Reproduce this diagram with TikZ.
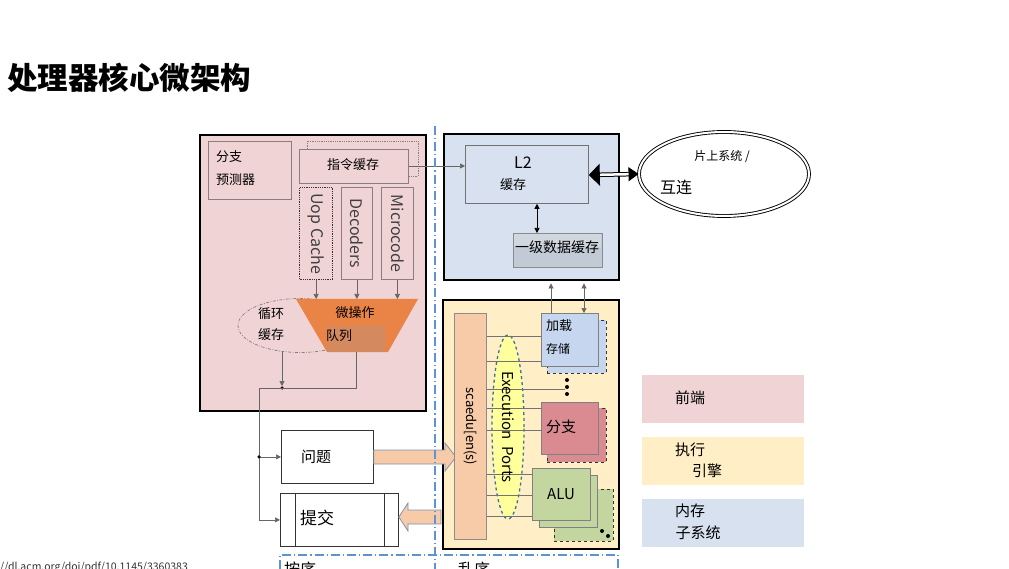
\documentclass[tikz,border=0pt]{standalone}
\usepackage{fontspec}
\setmainfont{Noto Sans CJK SC}
\usetikzlibrary{arrows.meta,calc,shapes.geometric}
\definecolor{fepink}{HTML}{F0D4D5}
\definecolor{memblue}{HTML}{D7E1EF}
\definecolor{exyellow}{HTML}{FFEEC6}
\definecolor{peach}{HTML}{F7CAA8}
\definecolor{uorange}{HTML}{EA8446}
\definecolor{qpatch}{HTML}{D4895E}
\definecolor{lsblue}{HTML}{C5D6EE}
\definecolor{brred}{HTML}{D98B91}
\definecolor{alugreen}{HTML}{C3D69F}
\definecolor{portyellow}{HTML}{FFFF9C}
\definecolor{portedge}{HTML}{41709F}
\definecolor{ddblue}{HTML}{5F93D2}
\definecolor{l1grey}{HTML}{C2CAD5}
\definecolor{edgegrey}{HTML}{8A7D7D}
\definecolor{fatedge}{HTML}{7A94B8}
\begin{document}
\begin{tikzpicture}[x=1pt,y=-1pt,
  box/.style={draw=edgegrey, line width=0.8pt, inner sep=0, anchor=north west},
  bigbox/.style={draw=black, line width=2.4pt, inner sep=0, anchor=north west},
  lbl/.style={inner sep=0, font=\fontsize{13}{15}\selectfont},
  conn/.style={draw=black!60, line width=0.7pt},
  tip/.style={-{Triangle[length=5pt,width=5pt]}},
  dtip/.style={{Triangle[length=5pt,width=5pt]}-{Triangle[length=5pt,width=5pt]}},
  ddash/.style={draw=ddblue, line width=1.1pt, dash pattern=on 9pt off 3pt on 1.2pt off 3pt},
  fatarrow/.style={draw=fatedge, line width=0.8pt, fill=peach, line join=miter},
  dot/.style={circle, fill=black, inner sep=0, minimum size=4pt},
]
\useasboundingbox (0,0) rectangle (1009,569);
\fill[white] (0,0) rectangle (1009,569);

% title
\node[anchor=west, inner sep=0, font=\fontsize{30.5}{33}\selectfont\bfseries] (title) at (7,78) {处理器核心微架构};

% ---------------- front end ----------------
\node[bigbox, fill=fepink, minimum width=226pt, minimum height=276pt] (fe) at (199,134) {};
\node[box, fill=fepink, minimum width=83pt, minimum height=58pt] (bp) at (208,141) {};
\node[lbl, anchor=west] (bpa) at (216,157) {分支};
\node[lbl, anchor=west] (bpb) at (216,180) {预测器};

\draw[draw=gray, densely dotted, line width=0.8pt] (307,149) -- (307,141) -- (418,141) -- (418,176) -- (408,176);
\node[box, fill=fepink, minimum width=109pt, minimum height=34pt] (ic) at (299,149) {};
\node[lbl] (ict) at (353,165) {指令缓存};

\node[box, draw=black!80, densely dotted, line width=1.3pt, minimum width=33pt, minimum height=92pt] (uop) at (299,187) {};
\node[rotate=-90, inner sep=0, text=black!75, font=\fontsize{16}{18}\selectfont] (uopt) at (uop.center) {Uop Cache};
\node[box, minimum width=31pt, minimum height=92pt] (dec) at (341,187) {};
\node[rotate=-90, inner sep=0, text=black!75, font=\fontsize{16}{18}\selectfont] (dect) at (dec.center) {Decoders};
\node[box, minimum width=32pt, minimum height=92pt] (mc) at (381,187) {};
\node[rotate=-90, inner sep=0, text=black!75, font=\fontsize{16}{18}\selectfont] (mct) at (mc.center) {Microcode};

% loop buffer
\draw[draw=gray, line width=0.7pt, dash pattern=on 3pt off 1.5pt on 0.8pt off 1.5pt] (300,325.5) ellipse [x radius=62, y radius=27];
\node[lbl, anchor=center] (lba) at (271,314) {循环};
\node[lbl, anchor=center] (lbb) at (271,335) {缓存};

% uop queue
\fill[uorange] (296,299) -- (418,299) -- (388,352) -- (327,352) -- cycle;
\fill[qpatch] (327,326) rectangle (385,352);
\node[lbl] (qa) at (355,313) {微操作};
\node[lbl] (qb) at (339,336) {队列};
\coordinate (qtop) at (357,299);
\coordinate (qbot) at (356,352);
\coordinate (lbot) at (282,352);
\coordinate (j1) at (282,388);
\coordinate (j2) at (259,388);

\draw[conn, tip] (uop.south) -- (uop.south |- qtop);
\draw[conn, tip] (dec.south) -- (dec.south |- qtop);
\draw[conn, tip] (mc.south) -- (mc.south |- qtop);

\draw[conn, tip] (lbot) -- ($(j1)+(0,-2)$);
\node[dot, minimum size=3.5pt] (j1d) at (j1) {};

% issue / commit
\node[box, draw=black!80, fill=white, minimum width=92pt, minimum height=53pt] (wt) at (281,430) {};
\node[lbl, font=\fontsize{15}{17}\selectfont] (wtt) at (316,457) {问题};
\node[box, draw=black!80, fill=white, minimum width=118pt, minimum height=53pt] (cm) at (280,493) {};
\draw[draw=black!80, line width=0.8pt] (295,493) -- (295,546) (384,493) -- (384,546);
\node[lbl, font=\fontsize{17}{19}\selectfont] (cmt) at (317,518) {提交};

\draw[conn] (qbot) -- (qbot |- j1) -- (j2) -- (j2 |- cm.west);
\draw[conn, tip] (j2 |- wt.west) -- (wt.west);
\draw[conn, tip] (j2 |- cm.west) -- (cm.west);
\node[dot, minimum size=3.5pt] (j2d) at (j2 |- wt.west) {};

% commit fat arrow
\draw[fatarrow] (441,510) -- (408,510) -- (408,503) -- (cm.east |- 0,517) -- (408,531) -- (408,524) -- (441,524) -- cycle;

% ---------------- memory ----------------
\node[bigbox, fill=memblue, minimum width=175pt, minimum height=146pt] (mem) at (443,133) {};
\node[box, draw=black!55, fill=memblue, minimum width=123pt, minimum height=58pt] (l2) at (465,145) {};
\node[inner sep=0, font=\fontsize{16}{18}\selectfont] (l2a) at (523,163) {L2};
\node[lbl] (l2b) at (513,185) {缓存};
\node[box, draw=black!45, fill=l1grey, minimum width=89pt, minimum height=34pt] (l1) at (513,233) {};
\fill[white, opacity=0.25] (514,234) rectangle (601,247);
\node[lbl, font=\fontsize{14}{16}\selectfont] (l1t) at (557,247) {一级数据缓存};
\draw[conn, draw=black, dtip] (l2.south -| 537,0) -- (l1.north -| 537,0);
\draw[conn, tip] (ic.east |- 0,166) -- (l2.west |- 0,166);

% SoC
\node[draw=black, double, double distance=2pt, line width=0.9pt, ellipse, minimum width=170pt, minimum height=84pt, inner sep=0] (soc) at (724,174) {};
\node[inner sep=0, font=\fontsize{12}{14}\selectfont] (soca) at (722,157) {片上系统 /};
\node[inner sep=0, font=\fontsize{16}{18}\selectfont] (socb) at (676,187) {互连};
\draw[black, double, double distance=2.5pt, line width=1pt,
  {Triangle[length=11pt,width=22pt]}-{Triangle[length=10pt,width=14pt]}] (l2.east |- 0,175) -- (soc.west);

% ---------------- execution ----------------
\node[bigbox, fill=exyellow, minimum width=176pt, minimum height=249pt] (ex) at (442,299) {};
% issue fat arrow (over the box border)
\draw[fatarrow] (wt.east |- 0,450) -- (445,450) -- (445,443) -- (456,457) -- (445,471) -- (445,464) -- (wt.east |- 0,464) -- cycle;
\node[box, draw=black!45, fill=peach, minimum width=32pt, minimum height=226pt] (sch) at (454,313) {};
\node[rotate=-90, inner sep=0, font=\fontsize{13}{15}\selectfont] (scht) at (sch.center) {scaedu[en(s)};

\node[draw=portedge, dashed, line width=1.3pt, fill=portyellow, ellipse, minimum width=32pt, minimum height=184pt, inner sep=0] (ports) at (508,427) {};

% load/store
\node[box, draw=black!80, dashed, fill=lsblue, minimum width=59pt, minimum height=53pt] (lsb) at (547,320) {};
\node[box, draw=black!50, fill=lsblue, minimum width=57pt, minimum height=53pt] (ls) at (541,313) {};
\node[lbl, anchor=west] (lsa) at (546,326) {加载};
\node[lbl, anchor=west, font=\fontsize{12}{14}\selectfont] (lsc) at (546,349) {存储};
% branch
\node[box, draw=black!80, dashed, fill=brred, minimum width=59pt, minimum height=54pt] (brb) at (547,408) {};
\node[box, draw=black!50, fill=brred, minimum width=57pt, minimum height=52pt] (br) at (541,402) {};
\node[lbl, anchor=west, font=\fontsize{15}{17}\selectfont] (brt) at (546,427) {分支};
% ALU
\node[box, draw=black!80, dashed, fill=alugreen, minimum width=59pt, minimum height=52pt] (alu3) at (554,489) {};
\node[box, draw=black!50, fill=alugreen, minimum width=58pt, minimum height=52pt] (alu2) at (539,475) {};
\node[box, draw=black!50, fill=alugreen, minimum width=58pt, minimum height=52pt] (alu) at (532,468) {};
\node[inner sep=0, font=\fontsize{15}{17}\selectfont] (alut) at (561,494) {ALU};
\node[dot] (ad1) at (602,531) {};
\node[dot] (ad2) at (608,536) {};
% dots
\node[dot] (d1) at (567,380) {};
\node[dot] (d2) at (567,387) {};
\node[dot] (d3) at (567,394) {};

% scheduler -> units
\draw[conn, draw=black!55] (sch.east |- 0,336) -- (ls.west |- 0,336);
\draw[conn, draw=black!55] (sch.east |- 0,361) -- (ls.west |- 0,361);
\draw[conn, draw=black!55] (sch.east |- 0,389) -- (d2.west |- 0,389);
\draw[conn, draw=black!55] (sch.east |- 0,408) -- (br.west |- 0,408);
\draw[conn, draw=black!55] (sch.east |- 0,430) -- (br.west |- 0,430);
\draw[conn, draw=black!55] (sch.east |- 0,474) -- (alu.west |- 0,474);
\draw[conn, draw=black!55] (sch.east |- 0,495) -- (alu.west |- 0,495);
\draw[conn, draw=black!55] (sch.east |- 0,516) -- (alu.west |- 0,516);
\node[rotate=-90, inner sep=0, font=\fontsize{15}{17}\selectfont] (portt) at (ports.center) {Execution\ \ Ports};

% memory <-> load/store
\draw[conn, tip] (ls.north -| 551,0) -- ($(mem.south -| 551,0)+(0,2)$);
\draw[conn, dtip] ($(mem.south -| 584,0)+(0,2)$) -- (ls.north -| 584,0);

% ---------------- dash-dot separators ----------------
\coordinate (sepT) at (435,126);
\coordinate (sepB) at (435,569);
\draw[ddash] (sepT) -- (sepB);
\draw[ddash] (280,569) -- (280,555) -- (618,555) -- (618,569);
\node[anchor=north west, inner sep=0, font=\fontsize{16}{18}\selectfont] (inord) at (284,562) {按序};
\node[anchor=north west, inner sep=0, font=\fontsize{16}{18}\selectfont] (ooo) at (458,562) {乱序};

% ---------------- legend ----------------
\node[anchor=north west, fill=fepink, minimum width=162pt, minimum height=48pt, inner sep=0] (lg1) at (642,375) {};
\node[inner sep=0, font=\fontsize{15}{17}\selectfont] (lg1t) at (690,398) {前端};
\node[anchor=north west, fill=exyellow, minimum width=162pt, minimum height=48pt, inner sep=0] (lg2) at (642,437) {};
\node[inner sep=0, font=\fontsize{15}{17}\selectfont] (lg2a) at (690,450) {执行};
\node[inner sep=0, font=\fontsize{15}{17}\selectfont] (lg2b) at (707,471) {引擎};
\node[anchor=north west, fill=memblue, minimum width=162pt, minimum height=48pt, inner sep=0] (lg3) at (642,499) {};
\node[inner sep=0, font=\fontsize{15}{17}\selectfont] (lg3a) at (690,511) {内存};
\node[inner sep=0, font=\fontsize{15}{17}\selectfont] (lg3b) at (698,533) {子系统};

% url
\node[anchor=north west, inner sep=0, text=black!80, font=\fontsize{10.5}{12}\selectfont] (url) at (0,562) {//dl.acm.org/doi/pdf/10.1145/3360383};
\end{tikzpicture}
\end{document}
